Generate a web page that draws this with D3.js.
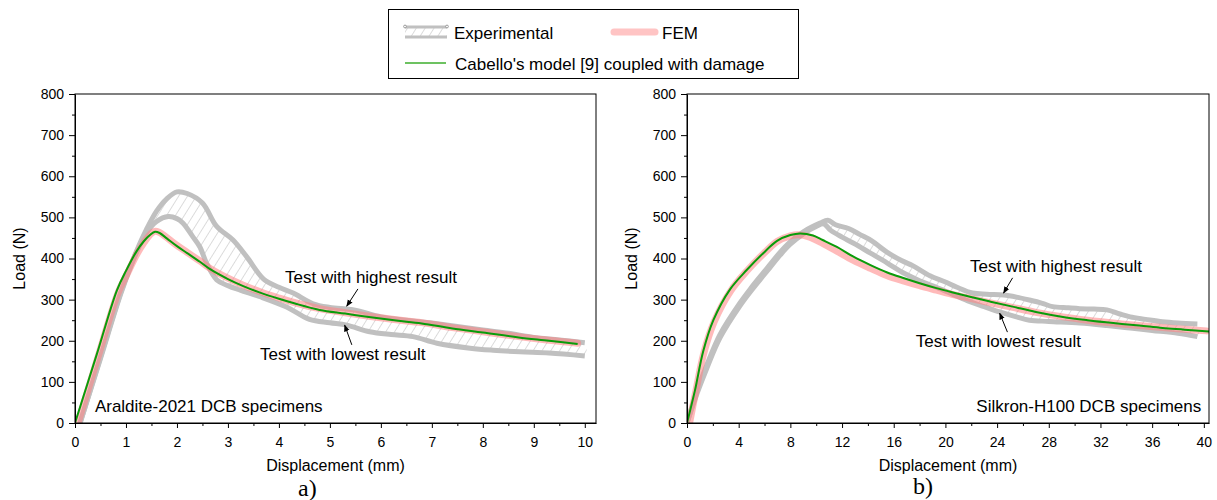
<!DOCTYPE html>
<html>
<head>
<meta charset="utf-8">
<script src="https://cdn.jsdelivr.net/npm/d3@7"></script>
<style>
body { margin: 0; background: #fff; }
svg { display: block; font-family: "Liberation Sans", Arial, sans-serif; }
.axis text { font-size: 14px; fill: #000; }
.axis path, .axis line { stroke: #000; }
</style>
</head>
<body>
<svg id="chart" width="1217" height="500"></svg>
<script>
// ---- Araldite-2021 (panel a) : [displacement mm, load N]
var aralditeModel = [[0,0],[0.43,168],[0.82,322],[1.0,370],[1.21,418],[1.35,442],[1.47,457],[1.57,465],[1.66,462],[1.8,449],[2.0,430],[2.2,413],[2.45,392],[2.65,374],[3.0,350],[3.3,333],[3.63,317],[4.0,302],[4.3,291],[4.8,275],[5.3,266],[5.8,257],[6.3,249],[6.8,242],[7.4,230],[8.0,220],[8.7,208],[9.3,200],[9.86,192]];
var aralditeFEM = [[0.06,0],[0.45,160],[0.84,315],[1.02,362],[1.22,412],[1.36,440],[1.47,458],[1.56,466],[1.65,464],[1.8,451],[2.0,432],[2.2,415],[2.45,394],[2.65,376],[3.0,352],[3.3,335],[3.63,319],[4.0,304],[4.3,293],[4.8,278],[5.3,268],[5.8,259],[6.3,251],[6.8,244],[7.4,232],[8.0,222],[8.7,210],[9.3,201],[9.86,194]];
var aralditeHigh = [[0.1,0],[0.5,160],[0.9,318],[1.2,416],[1.4,470],[1.6,515],[1.8,545],[2.0,562],[2.2,558],[2.5,535],[2.78,478],[3.1,445],[3.37,404],[3.7,350],[4.0,330],[4.28,316],[4.67,290],[5.0,281],[5.47,275],[6.0,258],[6.5,250],[7.0,243],[7.5,235],[8.0,226],[8.5,218],[9.0,208],[9.5,202],[10.0,195]];
var aralditeLow = [[0.1,0],[0.5,157],[0.9,315],[1.2,413],[1.4,462],[1.6,490],[1.83,502],[2.0,497],[2.12,486],[2.3,455],[2.45,428],[2.58,389],[2.78,348],[3.0,334],[3.24,323],[3.63,307],[4.15,282],[4.6,252],[5.0,244],[5.33,238],[5.78,222],[6.2,215],[6.63,210],[7.1,194],[7.75,182],[8.2,177],[8.73,173],[9.3,170],[10.0,163]];

// ---- Silkron-H100 (panel b)
var silkronModel = [[0,0],[0.62,80],[1.26,175],[2.04,250],[3.33,325],[4.62,372],[5.9,413],[6.97,443],[8.0,457],[8.75,461],[9.75,456],[10.5,445],[11.6,428],[12.85,405],[14.2,384],[15.5,366],[16.8,352],[18.0,340],[19.3,328],[20.5,318],[21.9,307],[23.5,295],[25.2,283],[27.0,270],[29.1,258],[31.0,250],[33.0,243],[35.0,237],[36.8,231],[38.5,227],[40.5,222]];
var silkronFEM = [[0.2,0],[0.7,80],[1.3,170],[2.1,246],[3.4,322],[4.7,372],[6.0,414],[7.0,442],[8.0,455],[8.6,458],[9.5,452],[10.5,437],[11.6,418],[12.85,396],[14.2,376],[15.5,358],[16.8,345],[18.0,334],[19.3,323],[20.5,313],[21.9,303],[23.5,292],[25.2,281],[27.0,269],[29.1,258],[31.0,250],[33.0,243],[35.0,237],[36.8,232],[38.5,228],[40.2,224]];
var silkronHigh = [[0,0],[0.8,80],[1.52,140],[2.55,215],[4.1,292],[5.0,330],[5.9,365],[6.42,385],[7.2,415],[7.97,440],[9.0,465],[10.3,486],[10.9,493],[11.5,482],[12.5,473],[13.4,458],[14.3,443],[15.5,415],[16.6,395],[17.5,382],[18.8,358],[20.0,343],[20.9,330],[22.1,316],[23.2,313],[24.5,311],[25.5,306],[26.5,299],[27.5,291],[28.3,283],[29.5,280],[30.4,278],[31.5,277],[32.5,275],[33.5,265],[34.3,258],[35.5,252],[36.8,246],[38.0,243],[39.5,241]];
var silkronLow = [[0,0],[0.8,74],[1.52,132],[2.55,207],[4.1,285],[5.0,323],[5.9,358],[6.42,378],[7.2,408],[7.97,434],[9.0,460],[10.0,478],[10.6,484],[11.1,469],[12.0,452],[12.9,437],[14.2,413],[15.5,389],[16.8,364],[18.0,346],[19.3,330],[20.5,314],[21.9,295],[23.0,283],[24.2,270],[25.5,258],[26.5,250],[28.0,247],[30.4,243],[32.5,237],[34.3,231],[36.0,225],[38.0,218],[39.5,210]];

// ---- ticks
var loadTicks = [0, 100, 200, 300, 400, 500, 600, 700, 800];
var loadMinor = [50, 150, 250, 350, 450, 550, 650, 750];
var aralditeTicks = [0, 1, 2, 3, 4, 5, 6, 7, 8, 9, 10];
var aralditeMinor = [0.5, 1.5, 2.5, 3.5, 4.5, 5.5, 6.5, 7.5, 8.5, 9.5];
var silkronTicks = [0, 4, 8, 12, 16, 20, 24, 28, 32, 36, 40];
var silkronMinor = [2, 6, 10, 14, 18, 22, 26, 30, 34, 38];

var grey = "#c0c0c0", pink = "rgba(255,130,130,0.55)", green = "#0a9c0a";

var svg = d3.select("#chart");
var defs = svg.append("defs");

var hatch = defs.append("pattern").attr("id", "hatch")
	.attr("patternUnits", "userSpaceOnUse")
	.attr("width", 7.5).attr("height", 8)
	.attr("patternTransform", "rotate(32)");
hatch.append("line").attr("x1", 0).attr("y1", 0).attr("x2", 0).attr("y2", 8)
	.attr("stroke", "#b0b0b0").attr("stroke-width", 0.9);

defs.append("marker").attr("id", "arrow")
	.attr("viewBox", "0 0 10 10").attr("refX", 9).attr("refY", 5)
	.attr("markerWidth", 7).attr("markerHeight", 7).attr("markerUnits", "userSpaceOnUse")
	.attr("orient", "auto")
	.append("path").attr("d", "M0,1 L10,5 L0,9 Z").attr("fill", "#000");

function drawPanel(p) {
	var x = d3.scaleLinear().domain(p.xDomain).range([p.left, p.right]);
	var y = d3.scaleLinear().domain([0, 800]).range([p.bottom, p.top]);
	var line = d3.line()
		.x(function (d) { return x(d[0]); })
		.y(function (d) { return y(d[1]); })
		.curve(d3.curveCatmullRom.alpha(0.5));

	defs.append("clipPath").attr("id", p.id + "-clip")
		.append("rect")
		.attr("x", p.left).attr("y", p.top)
		.attr("width", p.right - p.left).attr("height", p.bottom - p.top);

	var g = svg.append("g").attr("clip-path", "url(#" + p.id + "-clip)");

	// hatched band between highest and lowest tests
	g.append("path")
		.attr("d", line(p.high.concat(p.low.slice().reverse())) + "Z")
		.attr("fill", "url(#hatch)");
	[p.high, p.low].forEach(function (s) {
		g.append("path").attr("d", line(s))
			.attr("fill", "none").attr("stroke", grey)
			.attr("stroke-width", 5).attr("stroke-linejoin", "round");
	});
	g.append("path").attr("d", line(p.fem))
		.attr("fill", "none").attr("stroke", pink)
		.attr("stroke-width", 7).attr("stroke-linecap", "round").attr("stroke-linejoin", "round");
	g.append("path").attr("d", line(p.model))
		.attr("fill", "none").attr("stroke", green).attr("stroke-width", 2);

	// axes
	svg.append("g").attr("class", "axis")
		.attr("transform", "translate(0," + p.bottom + ")")
		.call(d3.axisBottom(x).tickValues(p.xTicks).tickSize(5).tickPadding(9).tickSizeOuter(0));
	svg.append("g").attr("class", "axis")
		.attr("transform", "translate(0," + p.bottom + ")")
		.call(d3.axisBottom(x).tickValues(p.xMinor).tickSize(3).tickFormat(""))
		.select(".domain").remove();
	svg.append("g").attr("class", "axis")
		.attr("transform", "translate(" + p.left + ",0)")
		.call(d3.axisLeft(y).tickValues(loadTicks).tickSize(6).tickPadding(5).tickSizeOuter(0));
	svg.append("g").attr("class", "axis")
		.attr("transform", "translate(" + p.left + ",0)")
		.call(d3.axisLeft(y).tickValues(loadMinor).tickSize(3).tickFormat(""))
		.select(".domain").remove();

	// frame
	svg.append("rect")
		.attr("x", p.left).attr("y", p.top)
		.attr("width", p.right - p.left).attr("height", p.bottom - p.top)
		.attr("fill", "none").attr("stroke", "#000").attr("stroke-width", 1);

	// titles
	svg.append("text")
		.attr("transform", "translate(" + (p.left - 50) + "," + ((p.top + p.bottom) / 2) + ") rotate(-90)")
		.attr("text-anchor", "middle").style("font-size", "16px")
		.text("Load (N)");
	svg.append("text")
		.attr("x", (p.left + p.right) / 2).attr("y", 471)
		.attr("text-anchor", "middle").style("font-size", "16px")
		.text("Displacement (mm)");
	svg.append("text")
		.attr("x", p.tag[0]).attr("y", p.tag[1])
		.style("font-family", "'Liberation Serif', 'Times New Roman', serif")
		.style("font-size", "24px")
		.text(p.tagText);

	// specimen name
	svg.append("text")
		.attr("x", x(p.name[0])).attr("y", y(p.name[1]))
		.attr("text-anchor", p.name[2]).style("font-size", "17px")
		.text(p.nameText);

	// annotations
	p.notes.forEach(function (n) {
		svg.append("text")
			.attr("x", x(n.at[0])).attr("y", y(n.at[1]))
			.style("font-size", "17px").text(n.text);
		svg.append("line")
			.attr("x1", x(n.from[0])).attr("y1", y(n.from[1]))
			.attr("x2", x(n.to[0])).attr("y2", y(n.to[1]))
			.attr("stroke", "#000").attr("stroke-width", 1)
			.attr("marker-end", "url(#arrow)");
	});
}

drawPanel({
	id: "a", left: 75, right: 596, top: 94, bottom: 423, xDomain: [0, 10.22],
	xTicks: aralditeTicks, xMinor: aralditeMinor,
	model: aralditeModel, fem: aralditeFEM, high: aralditeHigh, low: aralditeLow,
	name: [0.39, 27, "start"], nameText: "Araldite-2021 DCB specimens",
	tag: [298, 496], tagText: "a)",
	notes: [
		{ text: "Test with highest result", at: [4.12, 340], from: [5.55, 326], to: [5.33, 284] },
		{ text: "Test with lowest result", at: [3.63, 153], from: [5.43, 190], to: [5.29, 238] }
	]
});

drawPanel({
	id: "b", left: 687, right: 1209, top: 94, bottom: 423, xDomain: [0, 40.4],
	xTicks: silkronTicks, xMinor: silkronMinor,
	model: silkronModel, fem: silkronFEM, high: silkronHigh, low: silkronLow,
	name: [39.8, 27, "end"], nameText: "Silkron-H100 DCB specimens",
	tag: [913, 494], tagText: "b)",
	notes: [
		{ text: "Test with highest result", at: [21.9, 367], from: [25.2, 353], to: [24.5, 316] },
		{ text: "Test with lowest result", at: [17.7, 185], from: [24.8, 221], to: [24.2, 267] }
	]
});

// legend
var lg = svg.append("g");
lg.append("rect").attr("x", 388.5).attr("y", 9.5).attr("width", 410).attr("height", 69)
	.attr("fill", "#fff").attr("stroke", "#000").attr("stroke-width", 1);
lg.append("rect").attr("x", 405).attr("y", 27).attr("width", 42).attr("height", 10)
	.attr("fill", "url(#hatch)");
[27, 37].forEach(function (yy) {
	lg.append("line").attr("x1", 405).attr("x2", 447).attr("y1", yy).attr("y2", yy)
		.attr("stroke", grey).attr("stroke-width", 3);
});
[405, 447].forEach(function (xx) {
	lg.append("circle").attr("cx", xx).attr("cy", 26.5).attr("r", 1.4)
		.attr("fill", "#fff").attr("stroke", "#888").attr("stroke-width", 0.8);
});
lg.append("text").attr("x", 454).attr("y", 39).style("font-size", "17px").text("Experimental");
lg.append("line").attr("x1", 614).attr("x2", 655).attr("y1", 32).attr("y2", 32)
	.attr("stroke", "#ffc4c4").attr("stroke-width", 7).attr("stroke-linecap", "round");
lg.append("text").attr("x", 662).attr("y", 39).style("font-size", "17px").text("FEM");
lg.append("line").attr("x1", 405).attr("x2", 446).attr("y1", 63).attr("y2", 63)
	.attr("stroke", "#3cae2c").attr("stroke-width", 1.5);
lg.append("text").attr("x", 455).attr("y", 70).style("font-size", "17px").text("Cabello's model [9] coupled with damage");
</script>
</body>
</html>
